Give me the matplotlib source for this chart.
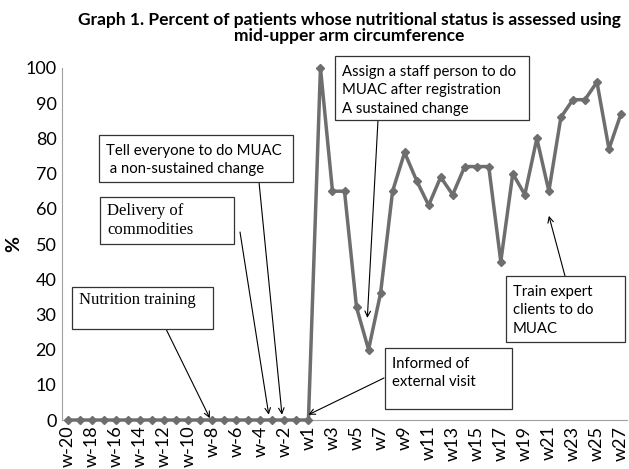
import numpy as np
import matplotlib.pyplot as plt
from matplotlib.patches import Rectangle

# weeks before (w-20..w-1) and after (w1..w27) the start, no w0
weeks = [f'w-{i}' for i in range(20, 0, -1)] + [f'w{i}' for i in range(1, 28)]
before = [0] * 20
after = [0, 100, 65, 65, 32, 20, 36, 65, 76, 68, 61, 69, 64, 72, 72, 72,
         45, 70, 64, 80, 65, 86, 91, 91, 96, 77, 87]
percent = before + after

W, H = 629, 469
sans = 'Lato'
serif = 'Liberation Serif'
line_grey = '#6e6e6e'

fig = plt.figure(figsize=(W / 100, H / 100), dpi=100)
ax = fig.add_axes([62 / W, 1 - 420 / H, (627 - 62) / W, (420 - 68) / H])

x = np.arange(len(weeks))
ax.plot(x, percent, color=line_grey, lw=2.5, marker='D', ms=4.5,
        clip_on=False, zorder=3)

ax.set_xlim(-0.5, len(weeks) - 0.5)
ax.set_ylim(0, 100)
ax.set_yticks(range(0, 101, 10))
ax.set_xticks(x[::2])
ax.set_xticklabels(weeks[::2], rotation=90, fontsize=13, family=sans)
for lab in ax.get_yticklabels():
    lab.set_family(sans)
    lab.set_fontsize(13)
ax.tick_params(length=0, pad=4)
ax.set_ylabel('%', fontsize=14, family=sans, fontweight='bold', labelpad=2)
for s in ['top', 'right']:
    ax.spines[s].set_visible(False)
for s in ['left', 'bottom']:
    ax.spines[s].set_color('#a0a0a0')

fig.text(349 / W, 1 - 28 / H,
         'Graph 1. Percent of patients whose nutritional status is assessed using\n'
         'mid-upper arm circumference',
         ha='center', va='center', fontsize=12.5, fontweight='bold', family=sans,
         linespacing=0.95)


def fp(px, py):
    return (px / W, 1 - py / H)


def note(box, text, font, start, tip_x, tip_y, size=10.7, spacing=1.4, top=9):
    x0, y0, x1, y1 = box
    fig.patches.append(Rectangle(fp(x0, y1), (x1 - x0) / W, (y1 - y0) / H,
                                 transform=fig.transFigure, fill=True,
                                 facecolor='white', edgecolor='#333333', lw=0.9,
                                 zorder=5))
    fig.text((x0 + 7) / W, 1 - (y0 + top) / H, text, ha='left', va='top',
             fontsize=size, family=font, linespacing=spacing, zorder=6)
    ax.annotate('', xy=(tip_x, tip_y), xycoords='data',
                xytext=fp(*start), textcoords='figure fraction',
                arrowprops=dict(arrowstyle='->', color='black', lw=0.8,
                                shrinkA=0, shrinkB=0), zorder=4)


note((72, 287, 213, 329), 'Nutrition training', serif, (166, 329), 11.8, 0.5,
     size=12, spacing=1.2, top=5)
note((100, 197, 234, 244), 'Delivery of\ncommodities', serif, (240, 232), 16.7, 1.5,
     size=12, spacing=1.25, top=6)
note((99, 135, 293, 182), 'Tell everyone to do MUAC\n a non-sustained change', sans,
     (259, 182), 17.8, 1.5)
note((335, 56, 529, 120), 'Assign a staff person to do\nMUAC after registration\nA sustained change',
     sans, (378, 120), 24.9, 29)
note((385, 348, 512, 409), 'Informed of\nexternal visit', sans, (384, 378), 20.0, 1.5)
note((506, 276, 625, 342), 'Train expert\nclients to do\nMUAC', sans, (565, 276), 40.0, 58)

fig.savefig('out.png', dpi=100)
